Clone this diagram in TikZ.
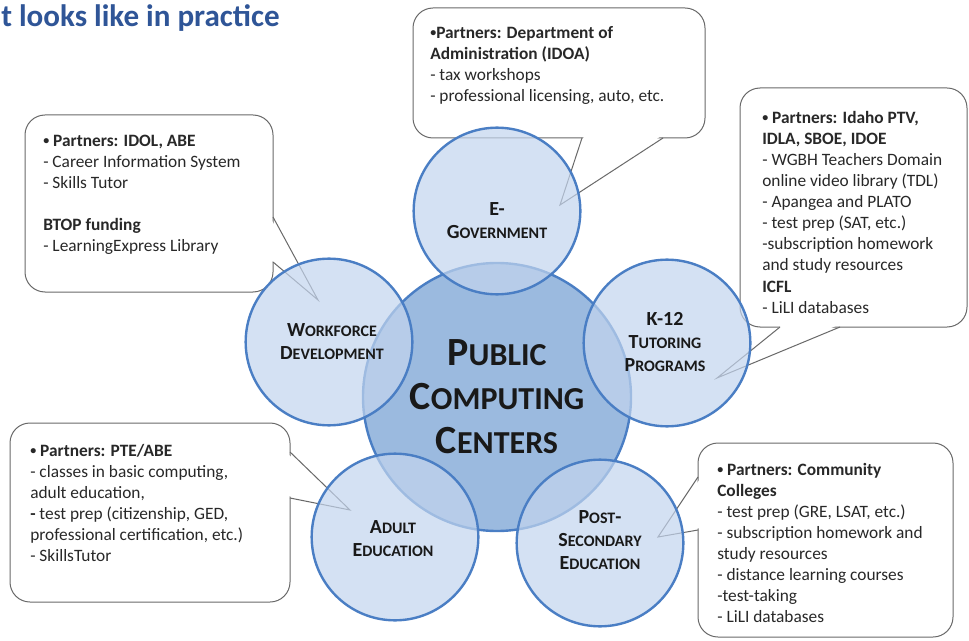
\documentclass[tikz,border=0pt]{standalone}
\usepackage{fontspec}
\setmainfont{Carlito}
\definecolor{ringblue}{RGB}{74,126,196}
\definecolor{hubfill}{RGB}{155,186,223}
\definecolor{satfill}{RGB}{195,213,238}
\definecolor{calloutgray}{RGB}{105,105,105}
\definecolor{titleblue}{RGB}{47,85,151}
\definecolor{labeltext}{RGB}{25,25,25}
\definecolor{bodytext}{RGB}{40,40,40}
\newcommand\capL[2]{{\fontsize{15}{17.25}\selectfont #1}{\fontsize{12}{17.25}\selectfont #2}}
\newcommand\capH[2]{{\fontsize{30}{33}\selectfont #1}{\fontsize{24}{33}\selectfont #2}}
\newcommand\bul{{\fontsize{9}{9}\selectfont\raisebox{1.2pt}{•}}}
\begin{document}
\begin{tikzpicture}[x=0.75pt,y=-0.75pt,
  callout/.style={draw=calloutgray, line width=0.75pt, fill=white, rounded corners=15pt},
  tailfill/.style={fill=white},
  tailline/.style={draw=calloutgray, line width=0.75pt, line join=miter},
  calltext/.style={anchor=north west, inner sep=0pt, align=left, font=\fontsize{13}{15.8}\selectfont, text=bodytext},
  hubc/.style={circle, draw=ringblue, line width=1.8pt, fill=hubfill, inner sep=0pt, minimum size=201pt},
  satc/.style={circle, draw=ringblue, line width=1.8pt, fill=satfill, fill opacity=0.7, inner sep=0pt, minimum size=125pt},
  satlabel/.style={align=center, inner sep=0pt, text=labeltext, font=\bfseries\fontsize{15}{17.25}\selectfont},
  hublabel/.style={align=center, inner sep=0pt, text=labeltext, font=\bfseries\fontsize{30}{33}\selectfont}]
\useasboundingbox (0,0) rectangle (969,641);
\fill[white] (0,0) rectangle (969,641);

% title
\node[anchor=base west, inner sep=0pt, font=\bfseries\fontsize{23.3}{28}\selectfont, text=titleblue] (title) at (1,27) {t looks like in practice};

% tail tips
\coordinate (egovtip) at (560,205);
\coordinate (worktip) at (318,300);
\coordinate (k12tip) at (717,378);
\coordinate (adulttip) at (350,510);
\coordinate (posttip) at (658,537);

% callout boxes
\draw[callout] (413,8) rectangle (705,138);
\fill[tailfill] (584,136) -- (egovtip) -- (661,136) -- cycle;
\draw[tailline] (582,138) -- (egovtip) -- (663,138);

\draw[callout] (25,115) rectangle (273,292);
\fill[tailfill] (271,219) -- (worktip) -- (271,260) -- cycle;
\draw[tailline] (273,217) -- (worktip) -- (273,262);

\draw[callout] (740,88) rectangle (967,327);
\fill[tailfill] (782,325) -- (k12tip) -- (838,325) -- cycle;
\draw[tailline] (780,327) -- (k12tip) -- (840,327);

\draw[callout] (10,423) rectangle (290,602);
\fill[tailfill] (288,454) -- (adulttip) -- (288,496) -- cycle;
\draw[tailline] (290,452) -- (adulttip) -- (290,498);

\draw[callout] (698,443) rectangle (953,637);
\fill[tailfill] (700,479) -- (posttip) -- (700,528) -- cycle;
\draw[tailline] (698,477) -- (posttip) -- (698,530);

\node[calltext] (egovtext) at (430,23.5) {\strut\textbf{\bul Partners: Department of}\\\textbf{Administration (IDOA)}\\- tax workshops\\- professional licensing, auto, etc.};
\node[calltext] (worktext) at (43,131) {\strut\textbf{\bul\ Partners: IDOL, ABE}\\- Career Information System\\- Skills Tutor\\\mbox{}\\\textbf{BTOP funding}\\- LearningExpress Library};
\node[calltext] (k12text) at (762,108.5) {\strut\textbf{\bul\ Partners: Idaho PTV,}\\\textbf{IDLA, SBOE, IDOE}\\- WGBH Teachers Domain\\online video library (TDL)\\- Apangea and PLATO\\- test prep (SAT, etc.)\\-subscription homework\\and study resources\\\textbf{ICFL}\\- LiLI databases};
\node[calltext] (adulttext) at (30,441.5) {\strut\textbf{\bul\ Partners: PTE/ABE}\\- classes in basic computing,\\adult education,\\\textbf{-} test prep (citizenship, GED,\\professional certification, etc.)\\ - SkillsTutor};
\node[calltext] (posttext) at (717,460.5) {\strut\textbf{\bul\ Partners: Community}\\\textbf{Colleges}\\- test prep (GRE, LSAT, etc.)\\- subscription homework and\\study resources\\- distance learning courses\\-test-taking\\- LiLI databases};

% circles
\node[hubc] (hub) at (497,397) {};
\node[satc] (egov) at (497,211) {};
\node[satc] (work) at (329,342) {};
\node[satc] (k12) at (667,343) {};
\node[satc] (adult) at (395,537) {};
\node[satc] (post) at (600,543) {};

% labels
\node[hublabel] (hublab) at (497,397) {\capH{P}{UBLIC}\\\capH{C}{OMPUTING}\\\capH{C}{ENTERS}};
\node[satlabel] (egovlab) at (497,221) {E-\\\capL{G}{OVERNMENT}};
\node[satlabel] (worklab) at (332,342) {\capL{W}{ORKFORCE}\\\capL{D}{EVELOPMENT}};
\node[satlabel] (k12lab) at (665,342) {K-12\\\capL{T}{UTORING}\\\capL{P}{ROGRAMS}};
\node[satlabel] (adultlab) at (393,539) {\capL{A}{DULT}\\\capL{E}{DUCATION}};
\node[satlabel] (postlab) at (600,540) {\capL{P}{OST}-\\\capL{S}{ECONDARY}\\\capL{E}{DUCATION}};
\end{tikzpicture}
\end{document}
